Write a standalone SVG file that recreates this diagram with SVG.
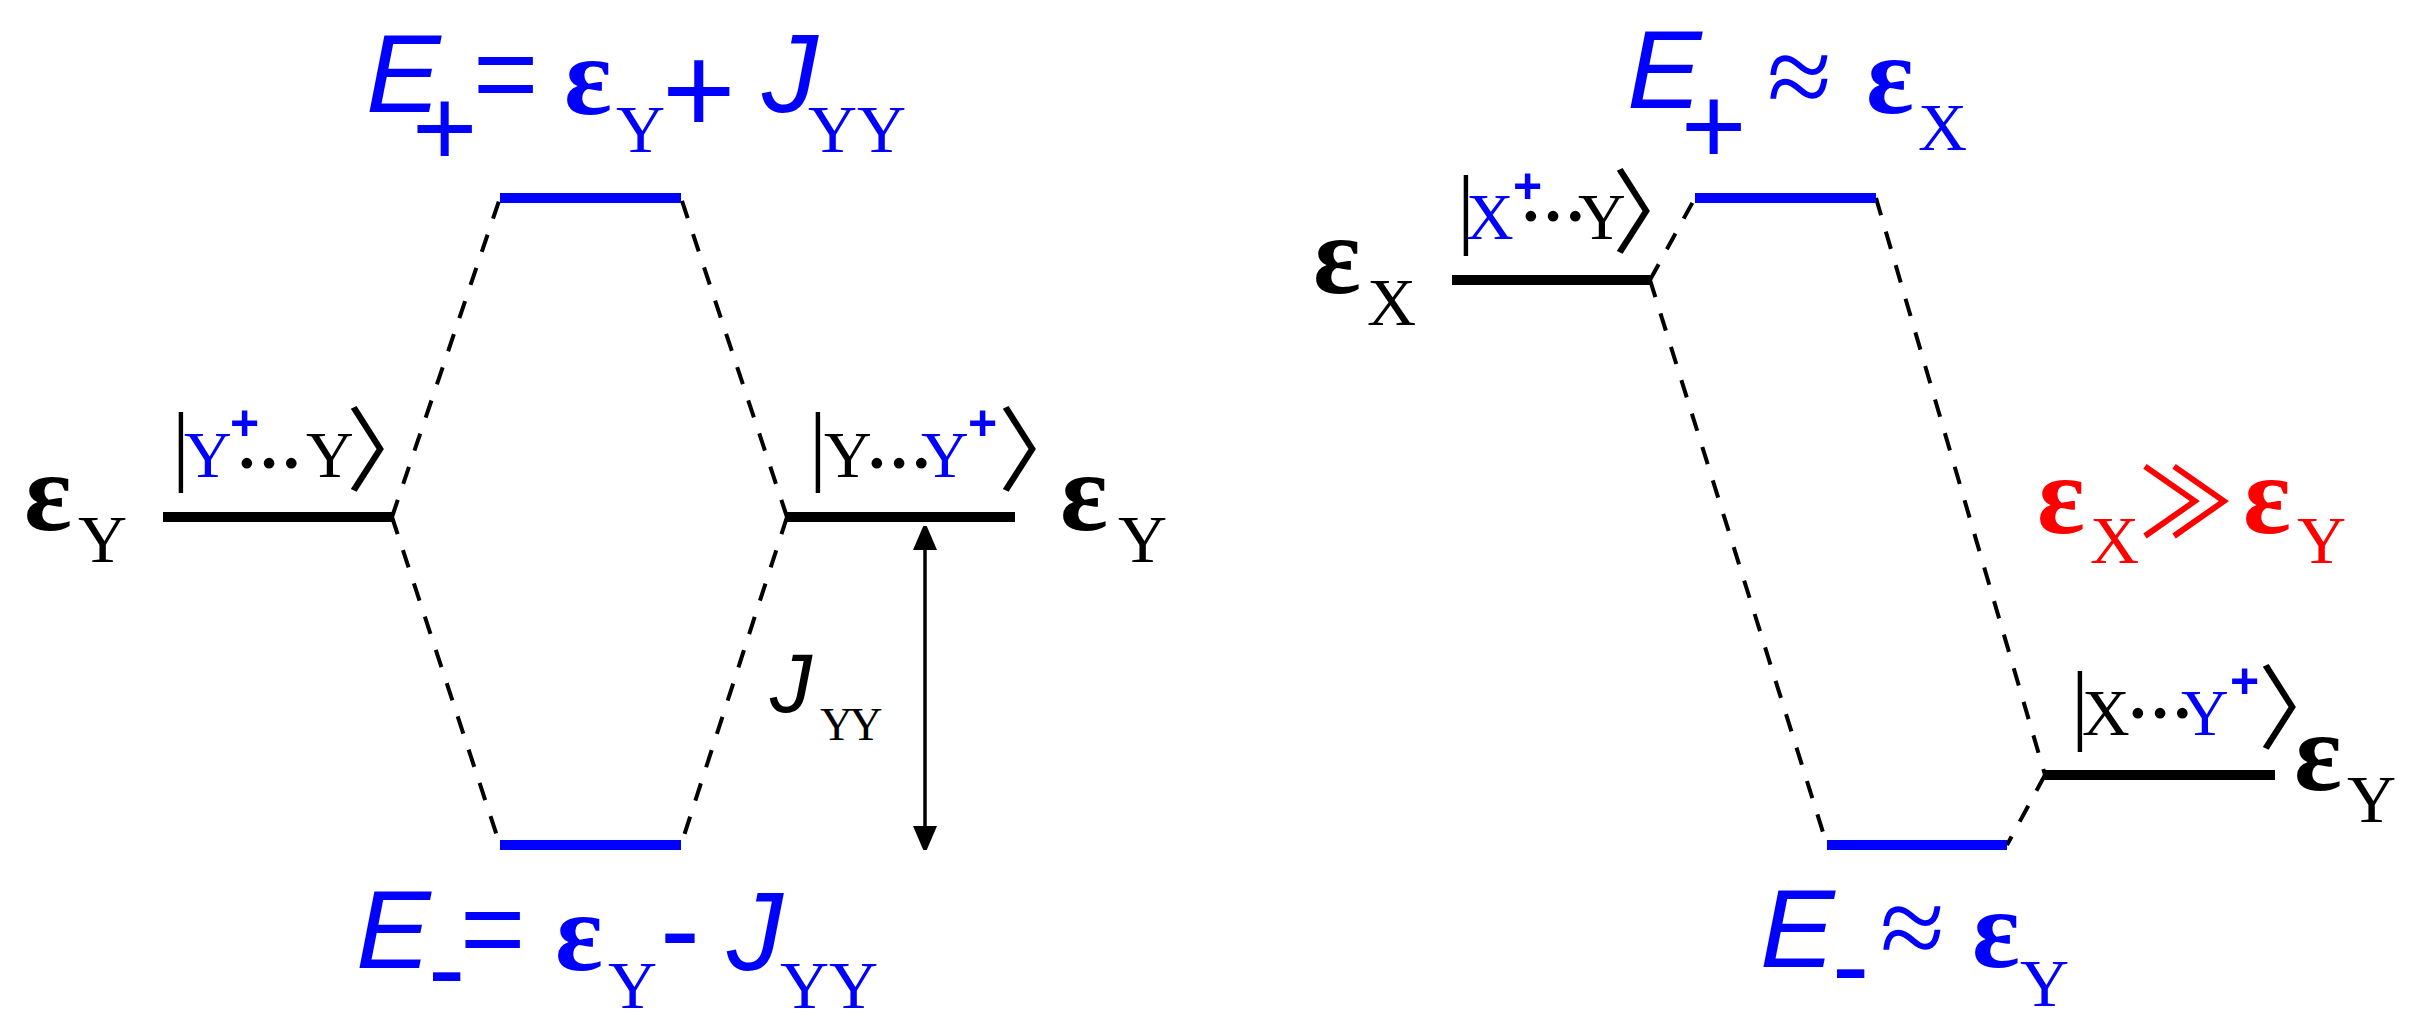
<svg xmlns="http://www.w3.org/2000/svg" width="2412" height="1032" viewBox="0 0 2412 1032">
<defs>
<style>
.bg{fill:#fff}
.lv{stroke-width:10;fill:none}
.k{stroke:#000}
.b{stroke:#0000ff}
.dash{stroke:#000;stroke-width:4;stroke-dasharray:18 17;fill:none}
text{font-family:"Liberation Serif","Times New Roman",serif}
.E{font-family:"Liberation Sans",Arial,sans-serif;font-style:italic;font-size:112px}
.op{font-family:"Liberation Sans",Arial,sans-serif;font-size:112px}
.eps{font-family:"Liberation Serif","Times New Roman",serif;font-weight:bold;font-size:112px}
.sub{font-family:"Liberation Serif","Times New Roman",serif;font-size:68px}
.ket{font-family:"Liberation Serif","Times New Roman",serif;font-size:66px}
.dots{font-family:"Liberation Serif","Times New Roman",serif;font-weight:bold;font-size:66px}
.bar{font-family:"Liberation Serif","Times New Roman",serif;font-size:89px}
.ang{font-family:"Noto Sans CJK JP",sans-serif;font-size:92px}
.sup{font-family:"Liberation Sans",Arial,sans-serif;font-weight:bold;font-size:50px}
.rel{font-family:"Liberation Serif","DejaVu Serif",serif;font-size:118px}
.ll{font-family:"Noto Sans CJK JP","DejaVu Sans",sans-serif;font-size:96px}
.cb{fill:#0000ff}
.ck{fill:#000}
.cr{fill:#ff0000}
</style>
<marker id="ah" viewBox="0 0 24 28" refX="0" refY="14" markerWidth="24" markerHeight="28" markerUnits="userSpaceOnUse" orient="auto-start-reverse">
<path d="M0,2 L28,14 L0,26 Z" fill="#000"/>
</marker>
</defs>
<rect class="bg" x="0" y="0" width="2412" height="1032"/>

<g id="connectors">
<line class="dash" x1="392" y1="517" x2="500" y2="198"/>
<line class="dash" x1="392" y1="517" x2="500" y2="845"/>
<line class="dash" x1="787" y1="517" x2="681" y2="198"/>
<line class="dash" x1="787" y1="517" x2="681" y2="845"/>
<line class="dash" x1="1650" y1="280" x2="1695" y2="198"/>
<line class="dash" x1="1650" y1="280" x2="1827" y2="845"/>
<line class="dash" x1="1876" y1="198" x2="2045" y2="775"/>
<line class="dash" x1="2045" y1="775" x2="2007" y2="845"/>
<line x1="925" y1="550" x2="925" y2="826" stroke="#000" stroke-width="3.5" marker-start="url(#ah)" marker-end="url(#ah)"/>
</g>

<g id="level-Y-left">
<line class="lv k" x1="163" y1="517" x2="392" y2="517"/>
<text class="ck"><tspan class="eps" x="24" y="530">ε</tspan><tspan class="sub" x="78" y="562">Y</tspan></text>
<text class="ck"><tspan class="bar" x="172" y="474">|</tspan><tspan class="ket cb" x="184" y="477">Y</tspan><tspan class="sup cb" x="230" y="440">+</tspan><tspan class="dots" x="236" y="468">…</tspan><tspan class="ket" x="306" y="477">Y</tspan><tspan class="ang" x="346" y="484">〉</tspan></text>
</g>

<g id="level-Y-right">
<line class="lv k" x1="787" y1="517" x2="1015" y2="517"/>
<text class="ck"><tspan class="bar" x="809" y="474">|</tspan><tspan class="ket" x="824" y="477">Y</tspan><tspan class="dots" x="866" y="468">…</tspan><tspan class="ket cb" x="921" y="477">Y</tspan><tspan class="sup cb" x="968" y="440">+</tspan><tspan class="ang" x="998" y="484">〉</tspan></text>
<text class="ck"><tspan class="eps" x="1060" y="530">ε</tspan><tspan class="sub" x="1118" y="562">Y</tspan></text>
</g>

<g id="level-Eplus-left">
<line class="lv b" x1="500" y1="198" x2="681" y2="198"/>
<text class="cb"><tspan class="E" x="366" y="112">E</tspan><tspan class="op" x="412" y="166">+</tspan><tspan class="op" x="473" y="112">=</tspan><tspan class="eps" x="564" y="114">ε</tspan><tspan class="sub" x="616" y="152">Y</tspan><tspan class="op" x="662" y="133" style="font-size:126px">+</tspan><tspan class="E" x="762" y="112">J</tspan><tspan class="sub" x="808" y="152">YY</tspan></text>
</g>

<g id="level-Eminus-left">
<line class="lv b" x1="500" y1="845" x2="681" y2="845"/>
<text class="cb"><tspan class="E" x="356" y="968">E</tspan><tspan class="op" x="428" y="1006">-</tspan><tspan class="op" x="460" y="967">=</tspan><tspan class="eps" x="555" y="970">ε</tspan><tspan class="sub" x="608" y="1008">Y</tspan><tspan class="op" x="660" y="970" style="font-size:120px">-</tspan><tspan class="E" x="727" y="970">J</tspan><tspan class="sub" x="780" y="1008">YY</tspan></text>
</g>

<g id="label-J">
<text class="ck"><tspan class="E" x="770" y="712" style="font-size:84px">J</tspan><tspan class="sub" x="820" y="740" style="font-size:46px;letter-spacing:-4px">YY</tspan></text>
</g>

<g id="level-X">
<line class="lv k" x1="1452" y1="280" x2="1650" y2="280"/>
<text class="ck"><tspan class="eps" x="1313" y="293">ε</tspan><tspan class="sub" x="1367" y="325">X</tspan></text>
<text class="ck"><tspan class="bar" x="1457" y="237">|</tspan><tspan class="ket cb" x="1466" y="239">X</tspan><tspan class="sup cb" x="1513" y="203">+</tspan><tspan class="dots" x="1520" y="221">…</tspan><tspan class="ket" x="1578" y="239">Y</tspan><tspan class="ang" x="1612" y="246">〉</tspan></text>
</g>

<g id="level-Eplus-right">
<line class="lv b" x1="1695" y1="198" x2="1876" y2="198"/>
<text class="cb"><tspan class="E" x="1627" y="108">E</tspan><tspan class="op" x="1681" y="164">+</tspan><tspan class="rel" x="1767" y="116">≈</tspan><tspan class="eps" x="1866" y="113">ε</tspan><tspan class="sub" x="1918" y="150">X</tspan></text>
</g>

<g id="relation">
<text class="cr"><tspan class="eps" x="2037" y="533">ε</tspan><tspan class="sub" x="2090" y="563">X</tspan><tspan class="ll" x="2138" y="537">≫</tspan><tspan class="eps" x="2243" y="533">ε</tspan><tspan class="sub" x="2297" y="563">Y</tspan></text>
</g>

<g id="level-Y-low">
<line class="lv k" x1="2045" y1="775" x2="2275" y2="775"/>
<text class="ck"><tspan class="bar" x="2071" y="733">|</tspan><tspan class="ket" x="2082" y="735">X</tspan><tspan class="dots" x="2127" y="718">…</tspan><tspan class="ket cb" x="2181" y="735">Y</tspan><tspan class="sup cb" x="2230" y="698">+</tspan><tspan class="ang" x="2258" y="742">〉</tspan></text>
<text class="ck"><tspan class="eps" x="2294" y="790">ε</tspan><tspan class="sub" x="2347" y="822">Y</tspan></text>
</g>

<g id="level-Eminus-right">
<line class="lv b" x1="1827" y1="845" x2="2007" y2="845"/>
<text class="cb"><tspan class="E" x="1760" y="967">E</tspan><tspan class="op" x="1832" y="1003">-</tspan><tspan class="rel" x="1880" y="967">≈</tspan><tspan class="eps" x="1972" y="967">ε</tspan><tspan class="sub" x="2020" y="1006">Y</tspan></text>
</g>
</svg>
